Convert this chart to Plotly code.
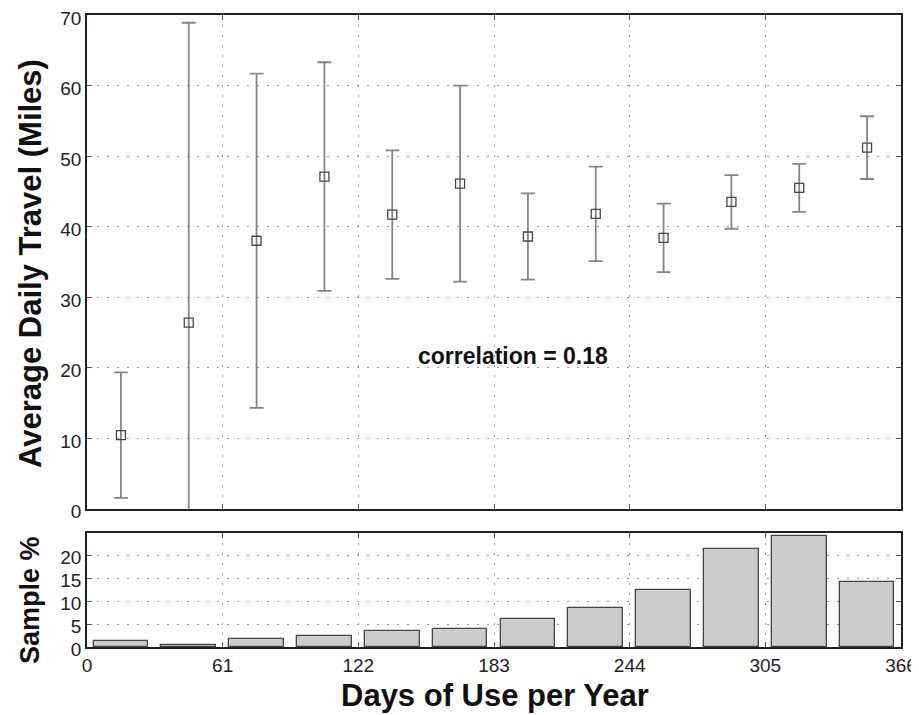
import plotly.graph_objects as go

# Data
bin_centers = [15.25, 45.75, 76.25, 106.75, 137.25, 167.75, 198.25, 228.75, 259.25, 289.75, 320.25, 350.75]
mean_travel = [10.45, 26.4, 38.0, 47.1, 41.7, 46.1, 38.6, 41.8, 38.4, 43.5, 45.5, 51.2]
err_travel = [8.9, 42.5, 23.7, 16.2, 9.1, 13.9, 6.1, 6.7, 4.85, 3.8, 3.4, 4.45]
sample_pct = [1.25, 0.5, 1.7, 2.35, 3.5, 4.0, 6.1, 8.65, 12.5, 21.4, 24.3, 14.2]
x_ticks = [0, 61, 122, 183, 244, 305, 366]
top_y_ticks = [0, 10, 20, 30, 40, 50, 60, 70]
bot_y_ticks = [0, 5, 10, 15, 20]
annotation_text = "correlation = 0.18"
y_title_top = "Average Daily Travel (Miles)"
y_title_bottom = "Sample %"
x_title = "Days of Use per Year"

FONT = "Liberation Sans, Arial, sans-serif"

fig = go.Figure()

fig.add_trace(go.Scatter(
    x=bin_centers, y=mean_travel, mode="markers",
    marker=dict(symbol="square-open", size=9, color="#444444", line=dict(width=1.3, color="#444444")),
    error_y=dict(type="data", array=err_travel, visible=True, color="#858585", thickness=1.8, width=7),
    xaxis="x", yaxis="y", showlegend=False, cliponaxis=True,
))

fig.add_trace(go.Bar(
    x=bin_centers, y=sample_pct, width=24.6,
    marker=dict(color="#cccccc", line=dict(color="#444444", width=1.3)),
    xaxis="x2", yaxis="y2", showlegend=False,
))

axis_common = dict(
    showline=True, linecolor="#222222", linewidth=1.5, mirror="ticks",
    ticks="inside", ticklen=5, tickcolor="#555555",
    showgrid=True, gridcolor="#9a9a9a", griddash="2px,8px", gridwidth=1,
    zeroline=False, tickfont=dict(family=FONT, size=19, color="#222222"),
    automargin=False, ticklabeloverflow="allow",
)

# The page body adds an 8px offset, so the figure is sized to fill the rest of the window.
fig.update_layout(
    width=911, height=707,
    margin=dict(l=79, r=18, t=7, b=68),
    paper_bgcolor="white", plot_bgcolor="white",
    font=dict(family=FONT),
    bargap=0,
    xaxis=dict(axis_common, range=[0, 366], tickvals=x_ticks, showticklabels=False,
               domain=[0, 1], anchor="y"),
    yaxis=dict(axis_common, range=[0, 70], tickvals=top_y_ticks, domain=[0.2187, 1.0], anchor="x",
               ticklabelshift=3),
    xaxis2=dict(axis_common, range=[0, 366], tickvals=x_ticks, domain=[0, 1], anchor="y2"),
    yaxis2=dict(axis_common, range=[0, 25], tickvals=bot_y_ticks, domain=[0, 0.1804], anchor="x2",
                ticklabelshift=2),
    annotations=[
        dict(text="<b>" + annotation_text + "</b>", x=191.5, y=21.6, xref="x", yref="y",
             showarrow=False, font=dict(family=FONT, size=23, color="#111111")),
        dict(text="<b>" + y_title_top + "</b>", x=-0.07, y=0.606, xref="paper", yref="paper",
             textangle=-90, showarrow=False, xanchor="center", yanchor="middle",
             font=dict(family=FONT, size=31, color="#111111")),
        dict(text="<b>" + y_title_bottom + "</b>", x=-0.07, y=0.0744, xref="paper", yref="paper",
             textangle=-90, showarrow=False, xanchor="center", yanchor="middle",
             font=dict(family=FONT, size=27, color="#111111")),
        dict(text="<b>" + x_title + "</b>", x=0.501, y=-0.076, xref="paper", yref="paper",
             showarrow=False, xanchor="center", yanchor="middle",
             font=dict(family=FONT, size=31, color="#111111")),
    ],
)

fig.write_html("out.html")
